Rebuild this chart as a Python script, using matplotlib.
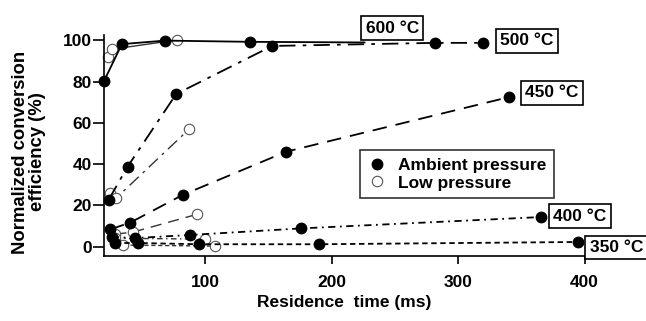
import numpy as np
import matplotlib
matplotlib.use('Agg')
import matplotlib.pyplot as plt

plt.rcParams['font.family'] = ['Liberation Sans', 'DejaVu Sans']
plt.rcParams['font.weight'] = 'bold'

# Ambient pressure series (residence time ms, normalized efficiency %)
amb_600_x = [20.2, 34.1, 68.4, 135.6, 226.0]
amb_600_y = [80.5, 98.2, 99.9, 99.3, 99.0]
amb_500_x = [23.6, 38.6, 77.1, 153.0, 281.8, 319.8]
amb_500_y = [22.6, 38.7, 74.0, 97.3, 98.8, 98.8]
amb_450_x = [24.9, 40.7, 82.1, 164.0, 340.3]
amb_450_y = [8.3, 11.6, 25.0, 46.0, 72.5]
amb_400_x = [26.2, 44.7, 88.1, 176.0, 365.6]
amb_400_y = [4.6, 4.1, 5.6, 8.8, 14.3]
amb_350_x = [28.9, 47.0, 95.3, 189.6, 394.9]
amb_350_y = [1.7, 1.7, 1.1, 1.1, 2.2]

# Low pressure series
low_600_x = [22.8, 26.2, 77.6]
low_600_y = [92.1, 95.7, 100.2]
low_500_x = [24.9, 29.6, 87.4]
low_500_y = [26.0, 23.5, 57.0]
low_450_x = [29.0, 43.0, 93.4]
low_450_y = [6.0, 7.0, 15.6]
low_400_x = [29.0, 100.0]
low_400_y = [4.0, 3.6]
low_350_x = [35.4, 107.9]
low_350_y = [0.7, 0.2]

temp_labels = ['600 °C', '500 °C', '450 °C', '400 °C', '350 °C']

styles = {
    '600': '-',
    '500': (0, (9, 4, 2, 4)),
    '450': (0, (8, 5)),
    '400': (0, (4, 2.5, 1, 2.5)),
    '350': (0, (3, 2)),
}

fig = plt.figure(figsize=(6.46, 3.21), dpi=100)
ax = fig.add_axes([0.161, 0.2025, 0.744, 0.689])

amb = [(amb_600_x, amb_600_y, '600'), (amb_500_x, amb_500_y, '500'),
       (amb_450_x, amb_450_y, '450'), (amb_400_x, amb_400_y, '400'),
       (amb_350_x, amb_350_y, '350')]
low = [(low_600_x, low_600_y, '600'), (low_500_x, low_500_y, '500'),
       (low_450_x, low_450_y, '450'), (low_400_x, low_400_y, '400'),
       (low_350_x, low_350_y, '350')]

for x, y, k in low:
    ax.plot(x, y, linestyle=styles[k], color='#333333', lw=1.0,
            marker='o', ms=7.5, mfc='white', mec='#555555', mew=0.8,
            clip_on=False, zorder=2)
for x, y, k in amb:
    # the 600 °C line runs on into its label box, no marker at the end
    mk = list(range(len(x) - 1)) if k == '600' else None
    ax.plot(x, y, linestyle=styles[k], color='black', lw=1.3,
            marker='o', ms=7.5, mfc='black', mec='black', markevery=mk,
            clip_on=False, zorder=3)

# temperature labels
fs = 12.5
box = dict(boxstyle='square,pad=0.25', fc='white', ec='black', lw=1.2)
label_pos = [(227, 106.0), (333, 99.8), (353, 74.5), (375, 14.8), (404, -0.4)]
for (lx, ly), t in zip(label_pos, temp_labels):
    ax.text(lx, ly, t, fontsize=fs, fontweight='bold', va='center', ha='left',
            bbox=box, clip_on=False, zorder=5)

ax.plot([], [], 'o', color='black', ms=7.5, label='Ambient pressure')
ax.plot([], [], 'o', mfc='white', mec='#555555', mew=0.8, ms=7.5, label='Low pressure')
h, l = ax.get_legend_handles_labels()
leg = ax.legend(h[-2:], l[-2:], loc='upper left', bbox_to_anchor=(0.533, 0.48),
                frameon=True, fancybox=False, edgecolor='black', fontsize=fs,
                handlelength=1.0, handletextpad=0.7, borderpad=0.45,
                labelspacing=0.15, borderaxespad=0)
leg.get_frame().set_linewidth(1.2)
for t in leg.get_texts():
    t.set_fontweight('bold')

ax.set_xlim(20, 400)
ax.set_ylim(-4.6, 102.7)
ax.set_xticks([100, 200, 300, 400])
ax.set_yticks([0, 20, 40, 60, 80, 100])
ax.spines['top'].set_visible(False)
ax.spines['right'].set_visible(False)
ax.spines['left'].set_linewidth(1.2)
ax.spines['bottom'].set_linewidth(1.2)
ax.tick_params(direction='out', length=8, width=1.2, labelsize=fs, pad=1)
ax.tick_params(axis='x', length=6, pad=8)
for t in ax.get_xticklabels() + ax.get_yticklabels():
    t.set_fontweight('bold')

ax.set_xlabel('Residence  time (ms)', fontsize=fs, fontweight='bold', labelpad=3)
ax.set_ylabel('Normalized conversion\nefficiency (%)', fontsize=13.3, fontweight='bold',
              linespacing=1.0)
ax.yaxis.set_label_coords(-0.12, 0.47)

fig.savefig('out.png', dpi=100)
